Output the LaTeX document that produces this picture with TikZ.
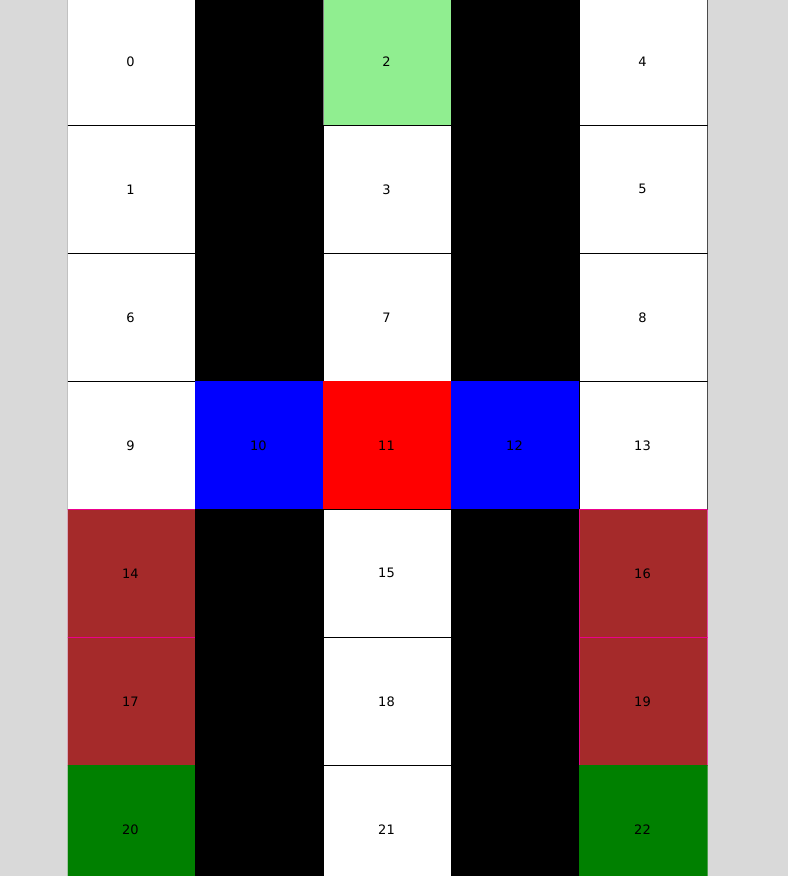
\documentclass[tikz,border=0pt]{standalone}
\usepackage{fontspec}
\setmainfont{DejaVu Sans}
\definecolor{bg}{RGB}{217,217,217}
\definecolor{lgreen}{RGB}{144,238,144}
\definecolor{cbrown}{RGB}{165,42,42}
\definecolor{cgreen}{RGB}{0,128,0}
\definecolor{cblue}{RGB}{0,0,255}
\definecolor{cred}{RGB}{255,0,0}
\definecolor{edgegrey}{RGB}{128,128,128}
\tikzset{
  cellbox/.style={minimum width=128pt, minimum height=128pt, inner sep=0pt, outer sep=0pt, line width=0.8pt, font=\fontsize{13}{13}\selectfont, text=black, anchor=center, label={[font=\fontsize{13}{13}\selectfont, xshift=-0.5pt, yshift=-0.3pt]center:#1}},
  cellbox/.default={},
  wcell/.style={cellbox=#1, fill=white, draw=black},
  kcell/.style={cellbox, fill=black, draw=black},
  gcell/.style={cellbox=#1, fill=lgreen, draw=edgegrey},
  bcell/.style={cellbox=#1, fill=cblue, draw=cblue},
  rcell/.style={cellbox=#1, fill=cred, draw=cred},
  brcell/.style={cellbox=#1, fill=cbrown, draw=magenta},
  dgcell/.style={cellbox=#1, fill=cgreen, draw=cgreen},
}
\begin{document}
\begin{tikzpicture}[x=1pt,y=-1pt]
\fill[bg] (0,0) rectangle (788,876);
\useasboundingbox (0,0) rectangle (788,876);
\begin{scope}
\clip (67.9,-10) rectangle (707.5,875);
% row 0
\node[wcell=0] (c0) at (131,61) {};
\node[kcell] (k0) at (259,61) {};
\node[gcell=2] (c2) at (387,61) {};
\node[kcell] (k1) at (515,61) {};
\node[wcell=4] (c4) at (643,61) {};
% row 1
\node[wcell=1] (c1) at (131,189) {};
\node[kcell] (k2) at (259,189) {};
\node[wcell=3] (c3) at (387,189) {};
\node[kcell] (k3) at (515,189) {};
\node[wcell=5] (c5) at (643,189) {};
% row 2
\node[wcell=6] (c6) at (131,317) {};
\node[kcell] (k4) at (259,317) {};
\node[wcell=7] (c7) at (387,317) {};
\node[kcell] (k5) at (515,317) {};
\node[wcell=8] (c8) at (643,317) {};
% row 3
\node[wcell=9] (c9) at (131,445) {};
\node[bcell=10] (c10) at (259,445) {};
\node[rcell=11] (c11) at (387,445) {};
\node[bcell=12] (c12) at (515,445) {};
\node[wcell=13] (c13) at (643,445) {};
% row 4
\node[brcell=14] (c14) at (131,573) {};
\node[kcell] (k6) at (259,573) {};
\node[wcell=15] (c15) at (387,573) {};
\node[kcell] (k7) at (515,573) {};
\node[brcell=16] (c16) at (643,573) {};
% row 5
\node[brcell=17] (c17) at (131,701) {};
\node[kcell] (k8) at (259,701) {};
\node[wcell=18] (c18) at (387,701) {};
\node[kcell] (k9) at (515,701) {};
\node[brcell=19] (c19) at (643,701) {};
% row 6
\node[dgcell=20] (c20) at (131,829) {};
\node[kcell] (k10) at (259,829) {};
\node[wcell=21] (c21) at (387,829) {};
\node[kcell] (k11) at (515,829) {};
\node[dgcell=22] (c22) at (643,829) {};
\end{scope}
\end{tikzpicture}
\end{document}
